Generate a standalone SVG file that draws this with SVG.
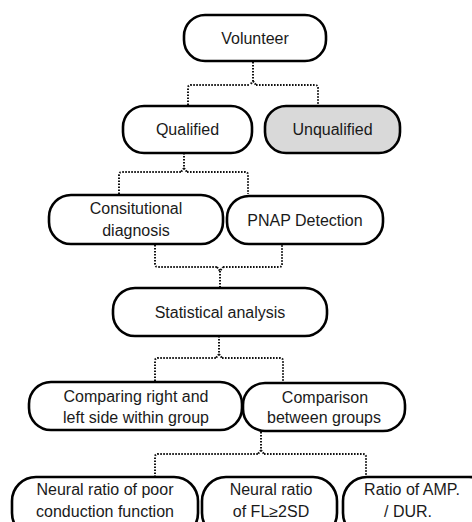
<svg xmlns="http://www.w3.org/2000/svg" width="472" height="522" viewBox="0 0 472 522">
<style>
.box{fill:#fff;stroke:#000;stroke-width:2.6}
.gray{fill:#d9d9d9}
.t{font-family:"Liberation Sans",Arial,sans-serif;font-size:16px;fill:#1a1a1a;text-anchor:middle}
.c{fill:none;stroke:#111;stroke-width:2;stroke-dasharray:1.6 1.4}
</style>
<rect width="472" height="522" fill="#fff"/>
<g id="connectors">
<path class="c" d="M253 62 V81 L250 85 M253 81 L256 85 M188 105 V88 Q188 85 191 85 H250 M256 85 H315 Q318 85 318 88 V105"/>
<path class="c" d="M184 153 V168 L181 172 M184 168 L187 172 M119 194 V175 Q119 172 122 172 H181 M187 172 H245 Q248 172 248 175 V194"/>
<path class="c" d="M155 245 V264 Q155 267 158 267 H217 M223 267 H279 Q282 267 282 264 V245 M217 267 L220 271 L223 267 M220 271 V288"/>
<path class="c" d="M219 336 V354 L216 358 M219 354 L222 358 M155 381 V361 Q155 358 158 358 H216 M222 358 H280 Q283 358 283 361 V382"/>
<path class="c" d="M261 432 V450 L258 454 M261 450 L264 454 M155 477 V457 Q155 454 158 454 H258 M264 454 H363 Q366 454 366 457 V477"/>
</g>
<g id="volunteer"><rect class="box" x="184" y="15" width="142" height="46" rx="21"/><text class="t" x="255" y="44">Volunteer</text></g>
<g id="qualified"><rect class="box" x="123" y="106" width="129" height="47" rx="21"/><text class="t" x="187.5" y="135">Qualified</text></g>
<g id="unqualified"><rect class="box gray" x="265" y="106" width="135" height="47" rx="21"/><text class="t" x="332.5" y="135">Unqualified</text></g>
<g id="constitutional"><rect class="box" x="49" y="195" width="174" height="49" rx="22"/><text class="t" x="136" y="214">Consitutional</text><text class="t" x="136" y="236">diagnosis</text></g>
<g id="pnap"><rect class="box" x="227" y="196" width="156" height="48" rx="22"/><text class="t" x="305" y="226">PNAP Detection</text></g>
<g id="statistical"><rect class="box" x="113" y="288" width="214" height="48" rx="22"/><text class="t" x="220" y="318">Statistical analysis</text></g>
<g id="comparing"><rect class="box" x="29" y="382" width="213" height="48" rx="22"/><text class="t" x="136" y="402">Comparing right and</text><text class="t" x="136" y="423">left side within group</text></g>
<g id="comparison"><rect class="box" x="243" y="383" width="162" height="48" rx="22"/><text class="t" x="325" y="403">Comparison</text><text class="t" x="324" y="423">between groups</text></g>
<g id="poor"><rect class="box" x="12" y="477" width="186" height="60" rx="24"/><text class="t" x="105" y="495">Neural ratio of poor</text><text class="t" x="105" y="517">conduction function</text></g>
<g id="fl"><rect class="box" x="202" y="477" width="135" height="60" rx="24"/><text class="t" x="271" y="495">Neural ratio</text><text class="t" x="271" y="517">of FL≥2SD</text></g>
<g id="amp"><rect class="box" x="343" y="477" width="150" height="60" rx="24"/><text class="t" x="412" y="495">Ratio of AMP.</text><text class="t" x="408" y="517">/ DUR.</text></g>
</svg>
